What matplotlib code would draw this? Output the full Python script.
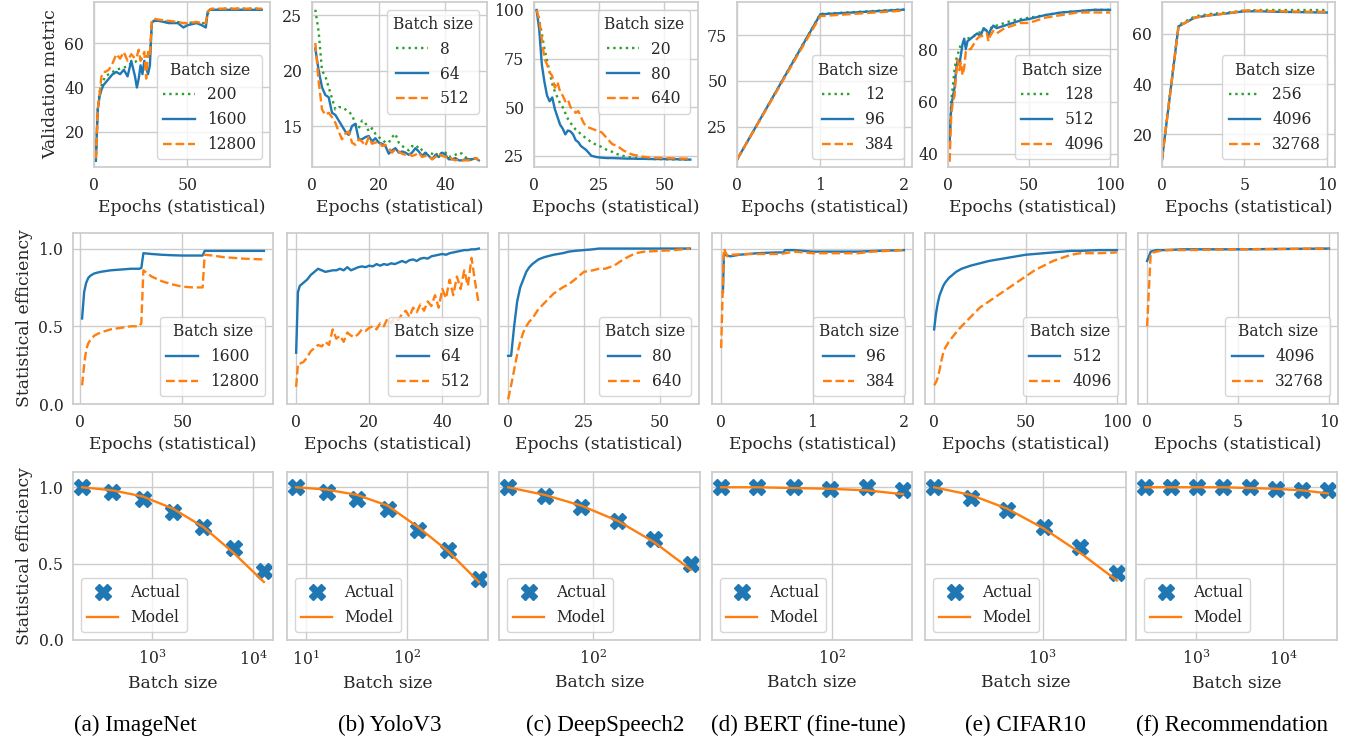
import matplotlib
matplotlib.use("Agg")
from matplotlib import pyplot as plt

# ---------------- row 1: validation metric vs epochs ----------------
inet_x = [1, 2, 3, 4, 5, 6, 8, 10, 12, 14, 16, 18, 20, 22, 23, 24, 25, 26, 27, 28,
          29, 30, 31, 32, 35, 40, 45, 48, 50, 55, 58, 60, 61, 62, 63, 70, 80, 90]
inet_200 = [7, 30, 38, 41, 43, 45, 46, 47, 48, 48.5, 49, 49.5, 51, 51.5, 52, 52.5, 53, 53, 53.5, 54,
            54, 55, 68, 70, 70, 69.5, 69.5, 69, 69, 69.5, 69, 69, 73, 74.5, 75, 75.5, 75.5, 75.5]
inet_1600 = [7, 30, 36, 39, 41, 42, 44, 46, 47, 46, 48, 45, 52, 45, 40, 44, 50, 46, 52, 49,
             46, 50, 69, 70, 70, 69, 69, 67, 68, 69, 68, 67, 74, 75, 75, 75, 75, 75]
inet_12800 = [8, 30, 37, 45, 47, 47, 48, 51, 55, 53, 56, 52, 55, 53, 54, 57, 52, 54, 56, 44,
              56, 54, 70, 71, 70.5, 70, 69.5, 69, 69, 69.5, 69, 69, 74, 75, 75.5, 75.5, 75.5, 75.5]

yolo_x = list(range(1, 51))
yolo_8 = [25.5, 23.5, 20.0, 19.5, 18.5, 17.5, 16.5, 16.7, 16.7, 16.5,
          16.3, 16.0, 15.2, 14.8, 15.5, 15.3, 14.5, 14.8, 14.3, 14.0,
          13.8, 13.5, 13.5, 14.0, 14.3, 13.5, 13.2, 13.0, 12.8, 13.2,
          13.0, 13.2, 12.8, 12.5, 12.6, 12.5, 12.3, 12.7, 12.4, 12.6,
          12.2, 12.3, 12.4, 12.6, 12.5, 12.2, 11.9, 12.0, 12.1, 12.0]
yolo_64 = [22.0, 20.0, 18.5, 17.8, 17.6, 16.2, 16.0, 15.5, 15.0, 14.5,
           14.2, 15.0, 15.2, 13.8, 13.8, 14.0, 14.1, 13.6, 13.9, 13.5,
           13.4, 13.2, 12.5, 12.8, 13.0, 12.6, 12.7, 12.6, 12.4, 12.6,
           13.0, 12.7, 12.3, 12.6, 12.3, 12.0, 12.4, 12.2, 12.6, 12.4,
           12.0, 12.0, 12.1, 11.9, 11.9, 12.0, 12.0, 12.0, 12.1, 11.9]
yolo_512 = [22.5, 19.0, 16.5, 16.0, 16.2, 15.8, 15.3, 14.5, 13.8, 14.3,
            14.5, 13.5, 13.3, 13.8, 13.6, 13.2, 14.0, 13.4, 13.5, 13.6,
            13.2, 13.3, 13.0, 12.6, 12.9, 12.7, 12.5, 12.4, 12.5, 12.3,
            12.4, 12.6, 12.2, 12.3, 12.3, 12.0, 12.2, 12.5, 12.3, 12.2,
            12.3, 12.0, 11.9, 12.0, 11.9, 11.9, 11.9, 11.9, 12.1, 11.9]

ds_x = [1, 2, 3, 4, 5, 6, 7, 8, 9, 10, 11, 12, 13, 14, 15, 16, 17, 18, 19, 20,
        22, 24, 26, 28, 30, 32, 34, 36, 38, 40, 42, 45, 50, 55, 60]
ds_20 = [100, 95, 88, 80, 74, 68, 62, 58, 55, 52, 50, 47, 44, 42, 40, 38.5, 37.5, 36, 35, 34,
         32, 30.5, 29.5, 28, 27, 25.8, 25, 24.3, 24, 23.7, 23.5, 23.3, 23.2, 23.1, 23]
ds_80 = [100, 90, 72, 63, 56, 53, 55, 49, 45, 41, 39, 36, 38, 37.5, 36, 33, 32, 30, 29, 28,
         25, 24.3, 24, 23.8, 23.8, 23.7, 23.6, 23.5, 23.5, 23.4, 23.4, 23.3, 23.3, 23.2, 23]
ds_640 = [100, 95, 85, 75, 72, 68, 66, 60, 63, 58, 56, 53, 54, 50, 49, 47, 48, 45, 42, 40,
          39, 38, 37, 34, 31, 30, 28, 26.5, 25.5, 25, 24.5, 24, 23.8, 23.6, 23.5]

bert_x = [0, 1, 2]
bert_12 = [7, 86.5, 89]
bert_96 = [7, 86.3, 88.8]
bert_384 = [7, 85.3, 88.3]

cf_x = [1, 2, 3, 4, 5, 6, 7, 8, 9, 10, 11, 12, 14, 16, 18, 20, 22, 24, 25, 26,
        28, 30, 35, 40, 45, 50, 60, 70, 80, 90, 100]
cf_128 = [45, 60, 66, 72, 76, 78, 80, 82, 82.5, 83, 83.5, 84, 84.5, 85, 86, 86.5, 87, 87.5, 88, 88,
          88.5, 89, 90, 91, 91.5, 92, 93, 94, 94.5, 95, 95]
cf_512 = [45, 58, 62, 65, 72, 76, 74, 78, 82, 84, 80, 83, 84, 85, 86, 85, 88, 87, 85, 87,
          89, 88, 89, 90, 91, 91.5, 93, 94, 94.5, 95, 95]
cf_4096 = [37, 55, 60, 62, 70, 76, 72, 75, 70, 73, 79, 80, 80, 82, 84, 85, 85, 86, 83, 85,
           87, 86, 88, 89, 90, 90, 92, 93, 94, 94, 94]

rec_x = [0, 1, 2, 3, 4, 5, 6, 7, 8, 9, 10]
rec_256 = [10, 63.5, 67, 68, 68.5, 69.3, 69.5, 69.5, 69.5, 69.5, 69.5]
rec_4096 = [10, 63, 66.5, 67.5, 68.2, 69, 69, 68.8, 68.7, 68.6, 68.5]
rec_32768 = [10, 63, 66.5, 67.5, 68.2, 69.3, 69.2, 69.0, 68.9, 68.8, 68.8]

# ---------------- row 2: statistical efficiency vs epochs ----------------
inet2_x = [1, 2, 3, 4, 5, 7, 10, 15, 20, 25, 29, 30, 31, 35, 40, 45, 50, 55, 60, 61, 65, 70, 80, 90]
inet2_1600 = [0.55, 0.72, 0.78, 0.81, 0.825, 0.84, 0.85, 0.86, 0.865, 0.87, 0.87, 0.875,
              0.97, 0.965, 0.96, 0.957, 0.955, 0.955, 0.955, 0.985, 0.985, 0.985, 0.985, 0.985]
inet2_12800 = [0.12, 0.25, 0.35, 0.39, 0.41, 0.44, 0.46, 0.48, 0.49, 0.50, 0.50, 0.52,
               0.86, 0.82, 0.79, 0.77, 0.755, 0.75, 0.75, 0.96, 0.955, 0.945, 0.935, 0.93]

yolo2_x = [0, 0.5] + list(range(1, 51))
yolo2_64 = [0.33, 0.72,
            0.76, 0.78, 0.80, 0.83, 0.85, 0.87, 0.86, 0.85, 0.855, 0.86,
            0.86, 0.87, 0.86, 0.88, 0.86, 0.87, 0.88, 0.885, 0.88, 0.89,
            0.885, 0.90, 0.89, 0.90, 0.895, 0.905, 0.90, 0.91, 0.92, 0.91,
            0.925, 0.93, 0.92, 0.935, 0.94, 0.935, 0.95, 0.955, 0.96, 0.965,
            0.96, 0.97, 0.975, 0.98, 0.985, 0.99, 0.99, 0.995, 0.995, 1.0]
yolo2_512 = [0.11, 0.26,
             0.26, 0.27, 0.30, 0.34, 0.36, 0.38, 0.37, 0.40, 0.38, 0.48,
             0.42, 0.44, 0.40, 0.46, 0.44, 0.43, 0.45, 0.48, 0.47, 0.49,
             0.50, 0.48, 0.52, 0.50, 0.55, 0.52, 0.56, 0.54, 0.58, 0.60,
             0.56, 0.62, 0.59, 0.64, 0.60, 0.66, 0.63, 0.70, 0.62, 0.74,
             0.68, 0.80, 0.70, 0.82, 0.74, 0.86, 0.76, 0.94, 0.78, 0.64]

ds2_x = [0, 1, 2, 3, 4, 5, 6, 7, 8, 10, 12, 15, 18, 20, 22, 25, 28, 30, 32, 35, 38, 40, 42, 45, 50, 55, 60]
ds2_80 = [0.31, 0.31, 0.50, 0.66, 0.75, 0.80, 0.85, 0.88, 0.90, 0.93, 0.945, 0.96, 0.97, 0.98,
          0.985, 0.99, 0.995, 1.0, 1.0, 1.0, 1.0, 1.0, 1.0, 1.0, 1.0, 1.0, 1.0]
ds2_640 = [0.03, 0.12, 0.22, 0.32, 0.40, 0.46, 0.50, 0.53, 0.55, 0.61, 0.65, 0.71, 0.75, 0.77,
           0.80, 0.85, 0.86, 0.87, 0.87, 0.89, 0.93, 0.95, 0.97, 0.98, 0.985, 0.99, 1.0]

bert2_x_96 = [0.02, 0.03, 0.1, 0.2, 0.4, 0.6, 0.68, 0.7, 0.8, 1.0, 1.5, 1.7, 2.0]
bert2_96 = [0.72, 0.96, 0.95, 0.96, 0.97, 0.975, 0.975, 0.99, 0.99, 0.98, 0.98, 0.985, 0.99]
bert2_x_384 = [0.0, 0.03, 0.07, 0.1, 0.3, 0.5, 0.65, 0.8, 1.0, 1.5, 1.65, 2.0]
bert2_384 = [0.36, 1.0, 0.95, 0.96, 0.965, 0.965, 0.965, 0.98, 0.97, 0.97, 0.98, 0.99]

cf2_x = [0, 1, 2, 3, 4, 5, 6, 8, 10, 12, 15, 20, 25, 30, 35, 40, 45, 50, 55, 60, 65, 70, 75, 80, 90, 100]
cf2_512 = [0.48, 0.58, 0.65, 0.70, 0.73, 0.76, 0.78, 0.81, 0.83, 0.85, 0.87, 0.89, 0.905,
           0.92, 0.93, 0.94, 0.95, 0.96, 0.965, 0.97, 0.975, 0.98, 0.985, 0.985, 0.99, 0.99]
cf2_4096 = [0.12, 0.14, 0.17, 0.22, 0.28, 0.33, 0.36, 0.40, 0.43, 0.46, 0.50, 0.56, 0.62,
            0.66, 0.70, 0.74, 0.78, 0.82, 0.86, 0.89, 0.92, 0.94, 0.96, 0.97, 0.97, 0.975]

rec2_x = [0, 0.2, 0.5, 1, 2, 5, 10]
rec2_4096 = [0.92, 0.98, 0.99, 0.99, 0.995, 0.995, 1.0]
rec2_32768 = [0.5, 0.97, 0.98, 0.99, 0.99, 0.995, 1.0]

# ---------------- row 3: efficiency vs batch size ----------------
inet_bs = [200, 400, 800, 1600, 3200, 6400, 12800]
inet_actual = [1.0, 0.97, 0.92, 0.84, 0.74, 0.60, 0.45]
inet_model = [1.0, 0.98, 0.94, 0.86, 0.74, 0.57, 0.38]

yolo_bs = [8, 16, 32, 64, 128, 256, 512]
yolo_actual = [1.0, 0.97, 0.92, 0.86, 0.72, 0.59, 0.40]
yolo_model = [1.0, 0.985, 0.95, 0.88, 0.74, 0.58, 0.38]

ds_bs = [20, 40, 80, 160, 320, 640]
ds_actual = [1.0, 0.94, 0.87, 0.78, 0.66, 0.50]
ds_model = [1.0, 0.95, 0.88, 0.78, 0.64, 0.46]

bert_bs = [12, 24, 48, 96, 192, 384]
bert_actual = [1.0, 1.0, 1.0, 0.99, 1.0, 0.98]
bert_model = [1.0, 1.0, 0.995, 0.99, 0.98, 0.955]

cf_bs = [128, 256, 512, 1024, 2048, 4096]
cf_actual = [1.0, 0.93, 0.85, 0.74, 0.61, 0.44]
cf_model = [1.0, 0.95, 0.86, 0.73, 0.57, 0.39]

rec_bs = [256, 512, 1024, 2048, 4096, 8192, 16384, 32768]
rec_actual = [1.0, 1.0, 1.0, 1.0, 1.0, 0.99, 0.98, 0.98]
rec_model = [1.0, 1.0, 1.0, 1.0, 0.995, 0.99, 0.98, 0.96]

captions = ["(a) ImageNet", "(b) YoloV3", "(c) DeepSpeech2",
            "(d) BERT (fine-tune)", "(e) CIFAR10", "(f) Recommendation"]

BLUE, ORANGE, GREEN = "#1f77b4", "#ff7f0e", "#2ca02c"
W, H = 1354, 742

plt.rcParams.update({
    "font.family": ["DejaVu Serif"],
    "mathtext.fontset": "dejavuserif",
    "axes.labelsize": 12.4,
    "xtick.labelsize": 11.3,
    "ytick.labelsize": 11.3,
    "legend.fontsize": 11.2,
    "legend.title_fontsize": 11.2,
    "axes.edgecolor": "#cccccc",
    "axes.linewidth": 1.25,
    "axes.grid": True,
    "axes.axisbelow": True,
    "grid.color": "#cccccc",
    "grid.linewidth": 1.0,
    "xtick.major.size": 0, "ytick.major.size": 0,
    "xtick.minor.size": 0, "ytick.minor.size": 0,
    "xtick.major.pad": 7, "ytick.major.pad": 7,
    "text.color": "#262626", "axes.labelcolor": "#262626",
    "xtick.color": "#262626", "ytick.color": "#262626",
    "lines.linewidth": 1.7,
    "legend.edgecolor": "0.8",
})

fig = plt.figure(figsize=(W / 100, H / 100), dpi=100)


def px_axes(l, t, r, b):
    return fig.add_axes([l / W, 1 - b / H, (r - l) / W, (b - t) / H])


# row 1
row1_boxes = [(94, 2, 270, 167), (312, 2, 487, 167), (534, 2, 698, 167),
              (737, 2, 912, 167), (948, 2, 1118, 167), (1162, 2, 1335, 167)]
row1_data = [
    (inet_x, inet_200, inet_1600, inet_12800, ["200", "1600", "12800"], (4.2, 78.5), [20, 40, 60], [0, 50], "lower right"),
    (yolo_x, yolo_8, yolo_64, yolo_512, ["8", "64", "512"], (11.3, 26.2), [15, 20, 25], [0, 20, 40], "upper right"),
    (ds_x, ds_20, ds_80, ds_640, ["20", "80", "640"], (19.2, 104.1), [25, 50, 75, 100], [0, 25, 50], "upper right"),
    (bert_x, bert_12, bert_96, bert_384, ["12", "96", "384"], (3, 93), [25, 50, 75], [0, 1, 2], "lower right"),
    (cf_x, cf_128, cf_512, cf_4096, ["128", "512", "4096"], (35, 98), [40, 60, 80], [0, 50, 100], "lower right"),
    (rec_x, rec_256, rec_4096, rec_32768, ["256", "4096", "32768"], (7, 72.7), [20, 40, 60], [0, 5, 10], "lower right"),
]
for i, (box, d) in enumerate(zip(row1_boxes, row1_data)):
    x, s1, s2, s3, labels, ylim, yt, xt, loc = d
    ax = px_axes(*box)
    ax.plot(x, s1, color=GREEN, linestyle=":", label=labels[0])
    ax.plot(x, s2, color=BLUE, linestyle="-", label=labels[1])
    ax.plot(x, s3, color=ORANGE, linestyle="--", label=labels[2])
    ax.set_xlim(left=0)
    ax.set_ylim(*ylim)
    ax.set_xticks(xt)
    ax.set_yticks(yt)
    ax.set_xlabel("Epochs (statistical)")
    if i == 0:
        ax.set_ylabel("Validation metric")
    ax.legend(title="Batch size", loc=loc)

# row 2
row2_boxes = [(73, 233, 273, 404), (287, 233, 488, 404), (499, 233, 699, 404),
              (712, 233, 913, 404), (925, 233, 1126, 404), (1138, 233, 1338, 404)]
row2_data = [
    (inet2_x, inet2_1600, inet2_x, inet2_12800, ["1600", "12800"], [0, 50]),
    (yolo2_x, yolo2_64, yolo2_x, yolo2_512, ["64", "512"], [0, 20, 40]),
    (ds2_x, ds2_80, ds2_x, ds2_640, ["80", "640"], [0, 25, 50]),
    (bert2_x_96, bert2_96, bert2_x_384, bert2_384, ["96", "384"], [0, 1, 2]),
    (cf2_x, cf2_512, cf2_x, cf2_4096, ["512", "4096"], [0, 50, 100]),
    (rec2_x, rec2_4096, rec2_x, rec2_32768, ["4096", "32768"], [0, 5, 10]),
]
for i, (box, d) in enumerate(zip(row2_boxes, row2_data)):
    x1, s1, x2, s2, labels, xt = d
    ax = px_axes(*box)
    ax.plot(x1, s1, color=BLUE, linestyle="-", label=labels[0])
    ax.plot(x2, s2, color=ORANGE, linestyle="--", label=labels[1])
    ax.set_ylim(0, 1.1)
    ax.set_xticks(xt)
    ax.set_yticks([0.0, 0.5, 1.0])
    ax.set_xlabel("Epochs (statistical)")
    if i == 0:
        ax.set_ylabel("Statistical efficiency")
    else:
        ax.set_yticklabels([])
    ax.legend(title="Batch size", loc="lower right")

# row 3
row3_boxes = [(73, 472, 273, 640), (287, 472, 488, 640), (499, 472, 700, 640),
              (712, 472, 912, 640), (925, 472, 1126, 640), (1136, 472, 1337, 640)]
row3_data = [
    (inet_bs, inet_actual, inet_model),
    (yolo_bs, yolo_actual, yolo_model),
    (ds_bs, ds_actual, ds_model),
    (bert_bs, bert_actual, bert_model),
    (cf_bs, cf_actual, cf_model),
    (rec_bs, rec_actual, rec_model),
]
for i, (box, d) in enumerate(zip(row3_boxes, row3_data)):
    bs, actual, model = d
    ax = px_axes(*box)
    ax.set_xscale("log")
    ax.plot(bs, actual, linestyle="none", marker="X", markersize=11, color=BLUE, label="Actual")
    ax.plot(bs, model, color=ORANGE, label="Model")
    ax.set_ylim(0, 1.1)
    ax.set_yticks([0.0, 0.5, 1.0])
    ax.set_xlabel("Batch size")
    if i == 0:
        ax.set_ylabel("Statistical efficiency")
    else:
        ax.set_yticklabels([])
    ax.legend(loc="lower left")

caption_x = [135, 390, 605, 808, 1025, 1232]
for cx, text in zip(caption_x, captions):
    fig.text(cx / W, 1 - 725 / H, text, ha="center", va="center",
             fontsize=16.7, family=["Liberation Serif"], color="black")

fig.savefig("out.png", dpi=100)
